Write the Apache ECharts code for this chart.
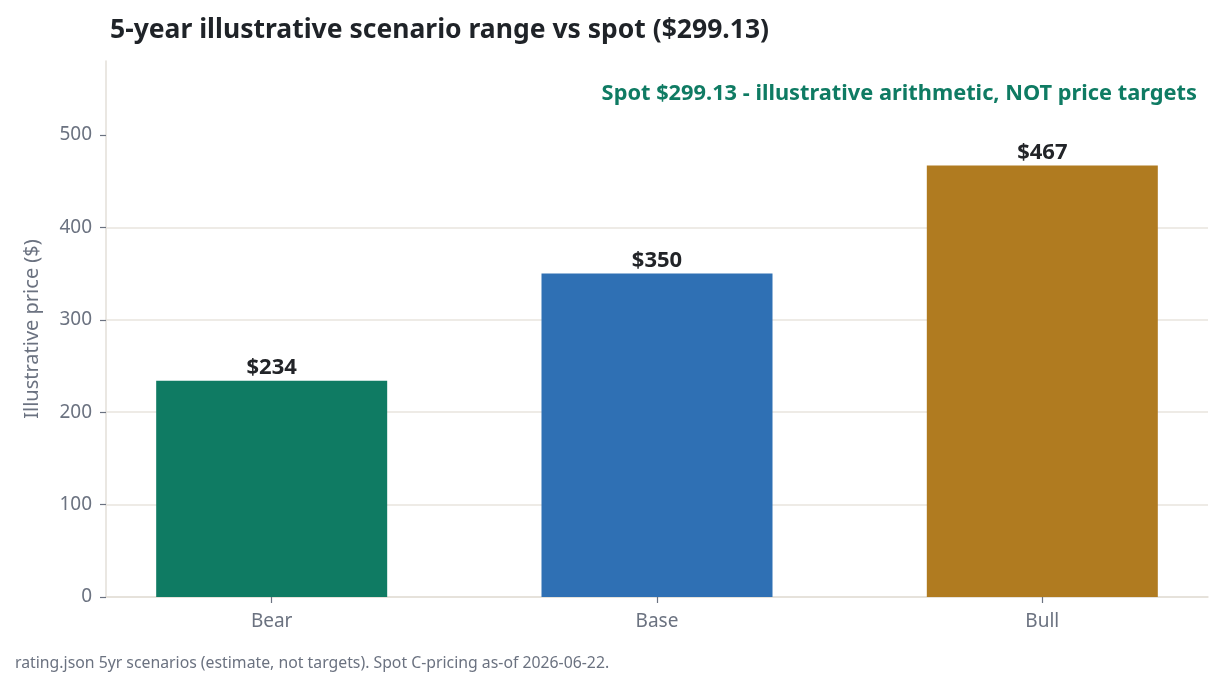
<!DOCTYPE html>
<html>
<head>
<meta charset="utf-8">
<script src="https://cdn.jsdelivr.net/npm/echarts@6/dist/echarts.min.js"></script>
<style>
html,body{margin:0;padding:0;background:#fff;}
#chart{width:1222px;height:689px;}
</style>
</head>
<body>
<div id="chart"></div>
<script>
const categories = ['Bear', 'Base', 'Bull'];
const values = [234, 350, 467];
const barColors = ['#0f7b63', '#2f70b4', '#b07b20'];
const yTicks = [0, 100, 200, 300, 400, 500];
const titleText = '5-year illustrative scenario range vs spot ($299.13)';
const noteText = 'Spot $299.13 - illustrative arithmetic, NOT price targets';
const footerText = 'rating.json 5yr scenarios (estimate, not targets). Spot C-pricing as-of 2026-06-22.';

const FONT = '"Noto Sans", "DejaVu Sans", sans-serif';
const chart = echarts.init(document.getElementById('chart'));
const positions = categories.map((c, i) => i);

chart.setOption({
  backgroundColor: '#ffffff',
  animation: false,
  textStyle: { fontFamily: FONT },
  title: {
    text: titleText,
    left: 105, top: 12,
    textStyle: { fontFamily: FONT, fontSize: 26.5, fontWeight: 'bold', color: '#1f2328' }
  },
  grid: { left: 106, right: 14, top: 61, bottom: 92 },
  xAxis: {
    type: 'value',
    min: -0.43, max: 2.43,
    splitLine: { show: false },
    axisLine: { show: true, onZero: false, lineStyle: { color: '#e3dfd8', width: 1.5 } },
    axisTick: { show: true, customValues: positions, length: 6, lineStyle: { color: '#6b7280', width: 1.2 } },
    axisLabel: {
      customValues: positions,
      formatter: v => categories[Math.round(v)] || '',
      margin: 15, fontSize: 19, color: '#6b7280', fontFamily: FONT
    }
  },
  yAxis: {
    type: 'value',
    min: 0, max: 580, interval: 100,
    name: 'Illustrative price ($)',
    nameLocation: 'middle',
    nameGap: 64,
    nameTextStyle: { fontSize: 20, color: '#6b7280', fontFamily: FONT },
    axisLine: { show: true, onZero: false, lineStyle: { color: '#e3dfd8', width: 1.5 } },
    axisTick: { show: true, customValues: yTicks, length: 6, lineStyle: { color: '#6b7280', width: 1.2 } },
    axisLabel: {
      customValues: yTicks,
      fontSize: 19, color: '#6b7280', margin: 14, fontFamily: FONT
    },
    splitLine: { show: true, showMaxLine: false, lineStyle: { color: '#e8e4de', width: 1.5 } }
  },
  graphic: [
    {
      type: 'text', right: 25, top: 83,
      style: { text: noteText, font: 'bold 21.8px ' + FONT, fill: '#0f7b63', textAlign: 'right' }
    },
    {
      type: 'text', left: 15, top: 655,
      style: { text: footerText, font: '15.8px ' + FONT, fill: '#6b7280' }
    }
  ],
  series: [{
    type: 'bar',
    barWidth: 231,
    data: values.map((v, i) => ({ value: [positions[i], v], itemStyle: { color: barColors[i] } })),
    label: {
      show: true, position: 'top', distance: 2,
      formatter: p => '$' + p.value[1],
      fontSize: 22, fontWeight: 'bold', color: '#222428', fontFamily: FONT
    }
  }]
});
</script>
</body>
</html>
